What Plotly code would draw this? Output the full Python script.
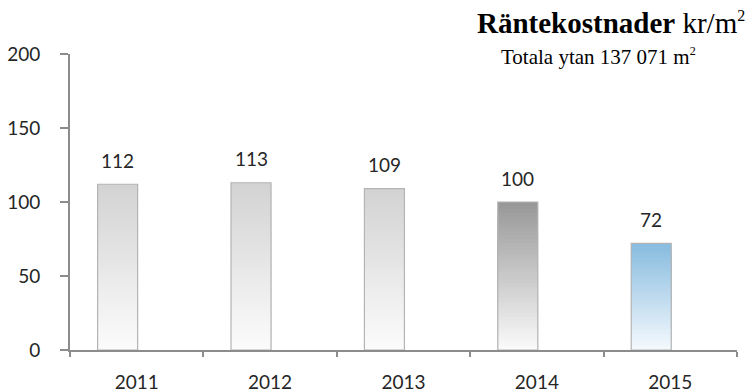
import plotly.graph_objects as go

years = ["2011", "2012", "2013", "2014", "2015"]
values = [112, 113, 109, 100, 72]
value_labels = ["112", "113", "109", "100", "72"]
y_ticks = [0, 50, 100, 150, 200]

top_colors = [(211, 211, 211), (211, 211, 211), (211, 211, 211), (152, 152, 152), (136, 188, 224)]
bottom_colors = [(252, 252, 252), (252, 252, 252), (252, 252, 252), (252, 252, 252), (246, 250, 253)]

BAR_W = 0.3
BAR_OFF = -0.293
N = 40

fig = go.Figure()

def mix(c0, c1, t):
    return "rgb(%d,%d,%d)" % tuple(round(a + (b - a) * t) for a, b in zip(c0, c1))

# gradient: overlapping bars, tallest first
for k in range(N):
    frac = (N - k) / N
    fig.add_trace(go.Bar(
        x=years,
        y=[v * frac for v in values],
        width=BAR_W, offset=BAR_OFF,
        marker=dict(color=[mix(b, t, frac) for b, t in zip(bottom_colors, top_colors)],
                    line=dict(width=0)),
        hoverinfo="skip", showlegend=False,
    ))

# outline
fig.add_trace(go.Bar(
    x=years, y=values, width=BAR_W, offset=BAR_OFF,
    marker=dict(color="rgba(0,0,0,0)", line=dict(color="#b4b4b4", width=1.2)),
    showlegend=False,
))

label_font = dict(family="Lato, Open Sans, sans-serif", size=19, color="#262626")

for i, (v, lab) in enumerate(zip(values, value_labels)):
    fig.add_annotation(x=i + BAR_OFF + BAR_W / 2, y=v, text=lab, showarrow=False, xref="x", yref="y",
                       xanchor="center", yanchor="middle", yshift=24,
                       font=label_font)

fig.add_annotation(xref="paper", yref="paper", x=1.0157, y=1.105, xanchor="right", yanchor="middle",
                   text="<b>Räntekostnader</b> kr/m<sup><span style='font-size:16px'>2</span></sup>",
                   showarrow=False,
                   font=dict(family="Liberation Serif, Times New Roman, serif", size=29, color="#000000"))
fig.add_annotation(xref="paper", yref="paper", x=0.9408, y=0.99, xanchor="right", yanchor="middle",
                   text="Totala ytan 137 071 m<sup><span style='font-size:12px'>2</span></sup>",
                   showarrow=False,
                   font=dict(family="Liberation Serif, Times New Roman, serif", size=21, color="#000000"))

fig.update_layout(
    width=752, height=392,
    margin=dict(l=70, r=14.5, t=54, b=42),
    paper_bgcolor="white", plot_bgcolor="white",
    barmode="overlay",
    xaxis=dict(type="category", range=[-0.5, 4.5], showgrid=False, zeroline=False,
               showline=True, linecolor="#8c8c8c", linewidth=2, automargin=False,
               ticks="outside", tickson="boundaries", ticklen=5, tickcolor="#8c8c8c", tickwidth=2,
               ticklabelstandoff=14, tickfont=label_font, fixedrange=True),
    yaxis=dict(range=[0, 200], tickvals=y_ticks, showgrid=False, zeroline=False,
               showline=True, linecolor="#8c8c8c", linewidth=2, automargin=False,
               ticks="outside", ticklen=8, tickcolor="#8c8c8c", tickwidth=2,
               ticklabelstandoff=16, tickfont=label_font, fixedrange=True),
)

fig.write_html("out.html")
